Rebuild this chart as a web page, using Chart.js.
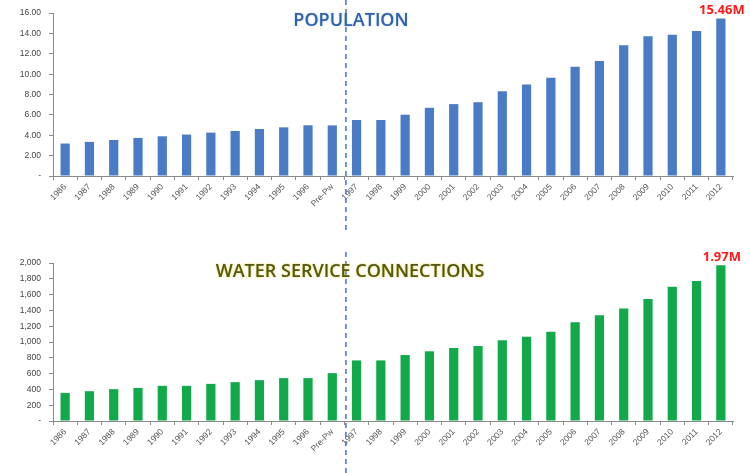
<!DOCTYPE html>
<html>
<head>
<meta charset="utf-8">
<script src="https://cdn.jsdelivr.net/npm/chart.js@4/dist/chart.umd.min.js"></script>
<style>
  html, body { margin: 0; padding: 0; background: #fff; }
  #wrap { position: relative; width: 750px; height: 473px; overflow: hidden; }
  #popWrap { position: absolute; left: 0; top: 0; width: 750px; height: 237px; }
  #connWrap { position: absolute; left: 0; top: 240px; width: 750px; height: 233px; }
</style>
</head>
<body>
<div id="wrap">
  <div id="popWrap"><canvas id="popChart" width="750" height="237"></canvas></div>
  <div id="connWrap"><canvas id="connChart" width="750" height="233"></canvas></div>
</div>
<script>
// years on the x axis, with the "Pre-Pw" column before 1997
const categories = ['1986', '1987', '1988', '1989', '1990', '1991', '1992', '1993', '1994', '1995', '1996', 'Pre-Pw',
  '1997', '1998', '1999', '2000', '2001', '2002', '2003', '2004', '2005', '2006', '2007', '2008', '2009', '2010', '2011', '2012'];

// population, millions
const population = [3.19, 3.35, 3.54, 3.74, 3.90, 4.07, 4.26, 4.42, 4.62, 4.78, 4.98, 4.97,
  5.50, 5.50, 6.02, 6.70, 7.06, 7.25, 8.32, 8.98, 9.66, 10.73, 11.29, 12.85, 13.72, 13.88, 14.24, 15.46];

// water service connections, thousands
const connections = [356, 377, 403, 419, 445, 445, 470, 492, 517, 543, 543, 606,
  767, 767, 835, 882, 924, 949, 1022, 1067, 1131, 1250, 1339, 1423, 1543, 1699, 1771, 1970];

const popTicks = { min: 0, max: 16, step: 2 };
const connTicks = { min: 0, max: 2000, step: 200 };

// index of the first column after the split line
const splitIndex = categories.indexOf('1997');

// title text, split line and the value label over the last bar
const overlayPlugin = {
  id: 'overlay',
  afterDatasetsDraw(chart, args, opts) {
    const ctx = chart.ctx;
    const x = chart.scales.x;

    // dashed split line between Pre-Pw and 1997
    const lx = (x.getPixelForValue(splitIndex - 1) + x.getPixelForValue(splitIndex)) / 2 + 1.5;
    ctx.save();
    ctx.strokeStyle = '#4a72c0';
    ctx.lineWidth = 1.5;
    ctx.setLineDash([5, 4]);
    ctx.beginPath();
    ctx.moveTo(lx, opts.lineTop);
    ctx.lineTo(lx, opts.lineBottom);
    ctx.stroke();
    ctx.restore();

    // title
    ctx.save();
    ctx.font = '600 18px "Open Sans", sans-serif';
    ctx.textAlign = 'center';
    ctx.textBaseline = 'middle';
    if (opts.glow) {
      ctx.shadowColor = opts.glow;
      ctx.shadowBlur = 2;
    }
    ctx.fillStyle = opts.titleColor;
    ctx.fillText(opts.title, opts.titleX, opts.titleY);
    ctx.restore();

    // value label above the last bar
    const meta = chart.getDatasetMeta(0);
    const bar = meta.data[meta.data.length - 1];
    ctx.save();
    ctx.font = 'bold 13px "Open Sans", sans-serif';
    ctx.textAlign = 'center';
    ctx.textBaseline = 'bottom';
    ctx.fillStyle = '#ff1a1a';
    ctx.fillText(opts.valueLabel, bar.x + 1, bar.y - 2);
    ctx.restore();
  }
};

function makeChart(id, values, color, ticks, tickFmt, pad, xHeight, overlay) {
  return new Chart(document.getElementById(id), {
    type: 'bar',
    data: {
      labels: categories,
      datasets: [{
        data: values,
        backgroundColor: color,
        borderWidth: 0,
        categoryPercentage: 1,
        barPercentage: 0.38
      }]
    },
    options: {
      responsive: false,
      devicePixelRatio: 1,
      animation: false,
      layout: { padding: pad },
      plugins: {
        legend: { display: false },
        tooltip: { enabled: false },
        overlay: overlay
      },
      scales: {
        x: {
          grid: { drawOnChartArea: false, drawTicks: true, tickLength: 4, color: '#8a8a8a', offset: true },
          border: { color: '#8a8a8a', width: 1 },
          ticks: {
            autoSkip: false,
            minRotation: 45,
            maxRotation: 45,
            padding: 2,
            color: '#555',
            font: { family: '"Liberation Sans", Arial, sans-serif', size: 8.5 }
          },
          afterFit(scale) { scale.height = xHeight; }
        },
        y: {
          min: ticks.min,
          max: ticks.max,
          grid: { drawOnChartArea: false, drawTicks: true, tickLength: 4, color: '#8a8a8a' },
          border: { color: '#8a8a8a', width: 1 },
          ticks: {
            stepSize: ticks.step,
            padding: 8,
            color: '#444',
            font: { family: '"Liberation Sans", Arial, sans-serif', size: 8.5 },
            callback: tickFmt
          },
          afterFit(scale) { scale.width = 53; }
        }
      }
    },
    plugins: [overlayPlugin]
  });
}

makeChart('popChart', population, '#4a7cc6', popTicks,
  v => v === 0 ? '-' : v.toFixed(2),
  { left: 0, right: 17, top: 12, bottom: 0 }, 61,
  {
    title: 'POPULATION', titleColor: '#2f62aa', titleX: 351, titleY: 21, glow: 'rgba(170,200,240,0.8)',
    valueLabel: population[population.length - 1].toFixed(2) + 'M',
    lineTop: 0, lineBottom: 232
  });

makeChart('connChart', connections, '#12a94b', connTicks,
  v => v === 0 ? '-' : v.toLocaleString('en-US'),
  { left: 0, right: 17, top: 23, bottom: 0 }, 52,
  {
    title: 'WATER SERVICE CONNECTIONS', titleColor: '#505a1c', titleX: 350, titleY: 32, glow: 'rgba(240,200,0,0.9)',
    valueLabel: (connections[connections.length - 1] / 1000).toFixed(2) + 'M',
    lineTop: 12, lineBottom: 233
  });
</script>
</body>
</html>
